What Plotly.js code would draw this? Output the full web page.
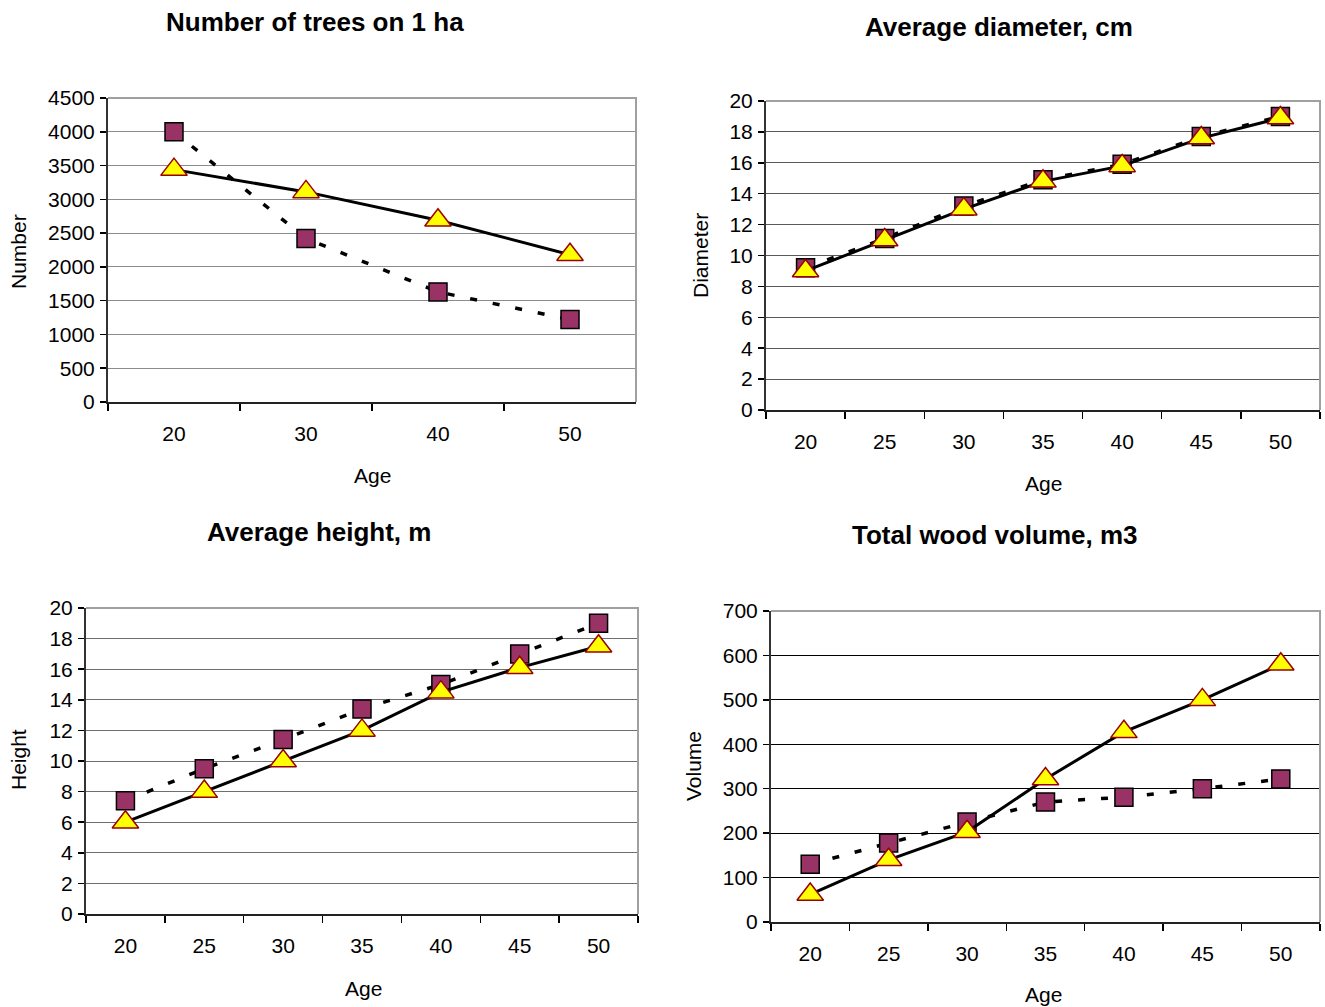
<!DOCTYPE html>
<html>
<head>
<meta charset="utf-8">
<script src="https://cdn.plot.ly/plotly-3.0.1.min.js"></script>
<style>
html,body{margin:0;padding:0;background:#fff;}
#chart{width:1325px;height:1007px;}
</style>
</head>
<body>
<div id="chart"></div>
<script>
// ---- data ----
const agesTrees = ["20", "30", "40", "50"];
const ages = ["20", "25", "30", "35", "40", "45", "50"];

const treesSquare = [4000, 2420, 1630, 1220];
const treesTriangle = [3440, 3110, 2690, 2180];

const diameterSquare = [9.2, 11.1, 13.2, 14.9, 15.9, 17.7, 19.0];
const diameterTriangle = [9.0, 11.0, 13.0, 14.8, 15.8, 17.6, 18.9];

const heightSquare = [7.4, 9.5, 11.4, 13.4, 15.0, 17.0, 19.0];
const heightTriangle = [6.0, 8.0, 10.0, 12.0, 14.5, 16.1, 17.5];

const volumeSquare = [130, 178, 225, 270, 281, 300, 322];
const volumeTriangle = [62, 140, 203, 322, 428, 500, 580];

const chartTitles = ["Number of trees on 1 ha", "Average diameter, cm", "Average height, m", "Total wood volume, m3"];
const yTitles = ["Number", "Diameter", "Height", "Volume"];
const xTitle = "Age";

// ---- layout helpers ----
const W = 1325, H = 1007;
const FONT = "Liberation Sans, Arial, sans-serif";
const px = v => v / W;
const py = v => 1 - v / H;

// plot areas in pixels: [left, right, top, bottom]
const areas = [
  [108, 636, 98, 402],
  [766, 1320, 101, 410],
  [86, 638, 608, 914],
  [771, 1320, 611, 922]
];
const gridColors = ["#8c8c8c", "#5a5a5a", "#6e6e6e", "#000000"];
const yRanges = [[0, 4500], [0, 20], [0, 20], [0, 700]];
const yDticks = [500, 2, 2, 100];
const cats = [agesTrees, ages, ages, ages];
const sqData = [treesSquare, diameterSquare, heightSquare, volumeSquare];
const trData = [treesTriangle, diameterTriangle, heightTriangle, volumeTriangle];

const titlePos = [[315, 22], [999, 27], [319, 532], [995, 535]];
const yTitlePos = [[18, 252], [700, 256], [18, 760], [693, 766]];
const xTitlePos = [[372, 475], [1043, 483], [363, 988], [1043, 994]];

const traces = [];
const layout = {
  width: W, height: H,
  margin: {l: 0, r: 0, t: 0, b: 0},
  paper_bgcolor: "#ffffff",
  plot_bgcolor: "#ffffff",
  showlegend: false,
  font: {family: FONT, size: 21, color: "#000"},
  annotations: [],
  shapes: []
};

for (let i = 0; i < 4; i++) {
  const n = i === 0 ? "" : String(i + 1);
  const xa = "x" + n, ya = "y" + n;
  const a = areas[i];
  traces.push({
    x: cats[i], y: sqData[i], xaxis: xa, yaxis: ya,
    type: "scatter", mode: "lines+markers",
    line: {color: "#000", width: 3.5, dash: "7px,16px"},
    marker: {symbol: "square", size: 18, color: "#993366", line: {color: "#000", width: 1.5}},
    hoverinfo: "skip"
  });
  traces.push({
    x: cats[i], y: trData[i], xaxis: xa, yaxis: ya,
    type: "scatter", mode: "lines+markers",
    line: {color: "#000", width: 3},
    marker: {symbol: "triangle-up", size: 23, color: "#ffff00", line: {color: "#990000", width: 1.5}},
    hoverinfo: "skip"
  });
  layout["xaxis" + n] = {
    domain: [px(a[0]), px(a[1])],
    anchor: ya,
    type: "category",
    range: [-0.5, cats[i].length - 0.5],
    tickson: "boundaries",
    ticks: "outside", ticklen: 7, tickwidth: 1.5, tickcolor: "#000",
    showline: true, linecolor: "#222", linewidth: 2,
    showgrid: false, zeroline: false,
    ticklabelstandoff: 12,
    tickfont: {family: FONT, size: 21, color: "#000"},
    fixedrange: true
  };
  layout["yaxis" + n] = {
    domain: [py(a[3]), py(a[2])],
    anchor: xa,
    range: yRanges[i],
    dtick: yDticks[i], tick0: 0,
    ticks: "outside", ticklen: 6, tickwidth: 1.5, tickcolor: "#000",
    showline: true, linecolor: "#333", linewidth: 2,
    showgrid: true, gridcolor: gridColors[i], gridwidth: 1,
    zeroline: false,
    tickfont: {family: FONT, size: 21, color: "#000"},
    ticklabelstandoff: 1,
    fixedrange: true
  };
  // top/right plot border (gray)
  layout.shapes.push({
    type: "path", xref: "paper", yref: "paper",
    path: `M${px(a[0])},${py(a[2])} L${px(a[1])},${py(a[2])} L${px(a[1])},${py(a[3])}`,
    line: {color: "#a0a0a0", width: 2}
  });
  layout.annotations.push({
    text: "<b>" + chartTitles[i] + "</b>", xref: "paper", yref: "paper",
    x: px(titlePos[i][0]), y: py(titlePos[i][1]), xanchor: "center", yanchor: "middle",
    showarrow: false, font: {family: FONT, size: 26, color: "#000"}
  });
  layout.annotations.push({
    text: yTitles[i], xref: "paper", yref: "paper", textangle: -90,
    x: px(yTitlePos[i][0]), y: py(yTitlePos[i][1]), xanchor: "center", yanchor: "middle",
    showarrow: false, font: {family: FONT, size: 21, color: "#000"}
  });
  layout.annotations.push({
    text: xTitle, xref: "paper", yref: "paper",
    x: px(xTitlePos[i][0]), y: py(xTitlePos[i][1]), xanchor: "center", yanchor: "middle",
    showarrow: false, font: {family: FONT, size: 21, color: "#000"}
  });
}

Plotly.newPlot("chart", traces, layout, {displayModeBar: false, staticPlot: true});
</script>
</body>
</html>
